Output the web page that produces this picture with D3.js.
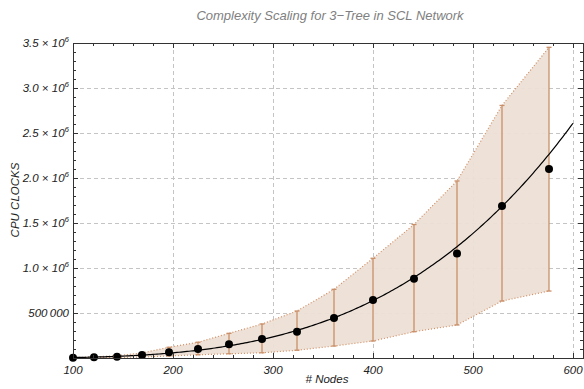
<!DOCTYPE html>
<html>
<head>
<meta charset="utf-8">
<script src="https://cdn.jsdelivr.net/npm/d3@7"></script>
<style>
  html, body { margin: 0; padding: 0; background: #fff; }
  svg text { font-family: "Liberation Sans", Arial, Helvetica, sans-serif; font-style: italic; }
</style>
</head>
<body>
<svg id="chart" width="584" height="389"></svg>
<script>
// Measured CPU clocks for a 3-tree over the SCL network, by network size
const nodes   = [100, 121, 144, 169, 196, 225, 256, 289, 324, 361, 400, 441, 484, 529, 576];
const clocks  = [3000, 9000, 15000, 33000, 65000, 100000, 152000, 211000, 293000, 444000, 644000, 880000, 1160000, 1690000, 2100000];
const clocksHigh = [5000, 12000, 26000, 56000, 119000, 175000, 274000, 378000, 522000, 763000, 1108000, 1483000, 1967000, 2806000, 3452000];
const clocksLow  = [1000, 3000, 5000, 11000, 22000, 36000, 47000, 58000, 86000, 133000, 189000, 292000, 367000, 633000, 744000];

const xTicks = [100, 200, 300, 400, 500, 600];
const yTicks = [500000, 1000000, 1500000, 2000000, 2500000, 3000000, 3500000];
const yTickLabels = ["500\u2009000", "1.0", "1.5", "2.0", "2.5", "3.0", "3.5"];

const titleText = "Complexity Scaling for 3\u2212Tree in SCL Network";
const xLabel = "# Nodes";
const yLabel = "CPU CLOCKS";

const svg = d3.select("#chart");
const m = { left: 73, right: 583, top: 43, bottom: 358 };

const x = d3.scaleLinear().domain([100, 610]).range([m.left, m.right]);
const y = d3.scaleLinear().domain([0, 3500000]).range([m.bottom, m.top]);

// Power-law fit y = a * n^b by least squares in log space
const fitPts = nodes.map((n, i) => [Math.log(n), Math.log(clocks[i])]).filter((p, i) => nodes[i] > 100);
const mx = d3.mean(fitPts, p => p[0]), my = d3.mean(fitPts, p => p[1]);
const b = d3.sum(fitPts, p => (p[0] - mx) * (p[1] - my)) / d3.sum(fitPts, p => (p[0] - mx) ** 2);
const a = Math.exp(my - b * mx);
const fitX = d3.range(100, 600.5, 2);

// grid
const grid = svg.append("g").attr("stroke", "#c4c4c4").attr("stroke-width", 1).attr("stroke-dasharray", "4,3");
grid.selectAll("line.v").data(xTicks.filter(t => t > 100)).join("line")
  .attr("x1", d => x(d) + 0.5).attr("x2", d => x(d) + 0.5)
  .attr("y1", m.top).attr("y2", m.bottom);
grid.selectAll("line.h").data(yTicks.filter(t => t < 3500000)).join("line")
  .attr("x1", m.left).attr("x2", m.right)
  .attr("y1", d => Math.round(y(d)) + 0.5).attr("y2", d => Math.round(y(d)) + 0.5);

// uncertainty band
const band = d3.area()
  .x((d, i) => x(nodes[i]))
  .y0((d, i) => y(clocksLow[i]))
  .y1((d, i) => y(clocksHigh[i]));
svg.append("path").datum(nodes).attr("d", band).attr("fill", "#eddfd5").attr("fill-opacity", 0.95);

const edge = (arr) => d3.line().x((d, i) => x(nodes[i])).y((d, i) => y(arr[i]));
[clocksHigh, clocksLow].forEach(arr => {
  svg.append("path").datum(nodes).attr("d", edge(arr))
    .attr("fill", "none").attr("stroke", "#d09066").attr("stroke-width", 1.2)
    .attr("stroke-dasharray", "1,2");
});

// error bars
const eb = svg.append("g").attr("stroke", "#c98f69").attr("stroke-width", 1.3).attr("fill", "none");
nodes.forEach((n, i) => {
  const cx = x(n);
  eb.append("line").attr("x1", cx).attr("x2", cx).attr("y1", y(clocksLow[i])).attr("y2", y(clocksHigh[i]));
  eb.append("line").attr("x1", cx - 2.5).attr("x2", cx + 2.5).attr("y1", y(clocksLow[i])).attr("y2", y(clocksLow[i]));
  eb.append("line").attr("x1", cx - 2.5).attr("x2", cx + 2.5).attr("y1", y(clocksHigh[i])).attr("y2", y(clocksHigh[i]));
});

// fitted curve
svg.append("path").datum(fitX)
  .attr("d", d3.line().x(d => x(d)).y(d => y(a * Math.pow(d, b))))
  .attr("fill", "none").attr("stroke", "#000").attr("stroke-width", 1.2);

// data points
svg.append("g").selectAll("circle").data(nodes).join("circle")
  .attr("cx", d => x(d)).attr("cy", (d, i) => y(clocks[i])).attr("r", 4)
  .attr("fill", "#000");

// frame
svg.append("rect").attr("x", m.left + 0.5).attr("y", m.top + 0.5)
  .attr("width", m.right - m.left).attr("height", m.bottom - m.top)
  .attr("fill", "none").attr("stroke", "#333").attr("stroke-width", 1);

// ticks (inward, on all four sides)
const tk = svg.append("g").attr("stroke", "#333").attr("stroke-width", 1);
const xMinor = d3.range(100, 611, 20);
xMinor.forEach(t => {
  const len = (t % 100 === 0) ? 5 : 3;
  const px = Math.round(x(t)) + 0.5;
  tk.append("line").attr("x1", px).attr("x2", px).attr("y1", m.bottom).attr("y2", m.bottom - len);
  tk.append("line").attr("x1", px).attr("x2", px).attr("y1", m.top).attr("y2", m.top + len);
});
const yMinor = d3.range(0, 3500001, 100000);
yMinor.forEach(t => {
  const len = (t % 500000 === 0) ? 5 : 3;
  const py = Math.round(y(t)) + 0.5;
  tk.append("line").attr("x1", m.left).attr("x2", m.left + len).attr("y1", py).attr("y2", py);
  tk.append("line").attr("x1", m.right).attr("x2", m.right - len).attr("y1", py).attr("y2", py);
});

// tick labels
svg.append("g").selectAll("text").data(xTicks).join("text")
  .attr("x", d => x(d)).attr("y", 374).attr("text-anchor", "middle")
  .attr("font-size", 11.5).attr("fill", "#222").text(d => d);

const yl = svg.append("g").selectAll("text").data(yTicks).join("text")
  .attr("x", 69).attr("y", d => y(d) + 4).attr("text-anchor", "end")
  .attr("font-size", 11.5).attr("fill", "#222");
yl.each(function(d, i) {
  const t = d3.select(this);
  if (d === 500000) { t.text(yTickLabels[i]); return; }
  t.append("tspan").text(yTickLabels[i] + " \u00D7 10");
  t.append("tspan").attr("dy", -5).attr("font-size", 8).text("6");
});

// axis titles
svg.append("text").attr("x", 327).attr("y", 383).attr("text-anchor", "middle")
  .attr("font-size", 11.5).attr("fill", "#222").text(xLabel);
svg.append("text").attr("transform", "translate(19,200) rotate(-90)").attr("text-anchor", "middle")
  .attr("font-size", 11.5).attr("fill", "#222").text(yLabel);
svg.append("text").attr("x", 330).attr("y", 20).attr("text-anchor", "middle")
  .attr("font-size", 13).attr("fill", "#808080").text(titleText);
</script>
</body>
</html>
